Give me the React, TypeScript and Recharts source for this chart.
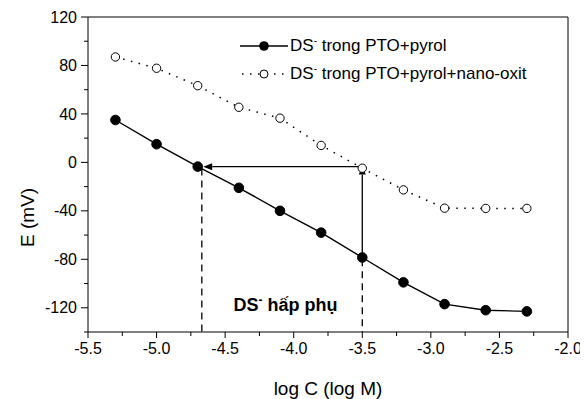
import React from 'react';
import { ComposedChart, Line, XAxis, YAxis, ReferenceLine, ReferenceDot } from 'recharts';

const logC = [-5.3, -5.0, -4.7, -4.4, -4.1, -3.8, -3.5, -3.2, -2.9, -2.6, -2.3];
const ePyrol = [35, 15, -3.5, -21, -40, -58, -78.5, -99, -117, -122, -123];
const eNano = [87, 77.7, 63.3, 45.5, 36.5, 14, -4.8, -22.7, -37.8, -38, -38];

const xTicks = [-5.5, -5.25, -5.0, -4.75, -4.5, -4.25, -4.0, -3.75, -3.5, -3.25, -3.0, -2.75, -2.5, -2.25, -2.0];
const xMajor = [-5.5, -5.0, -4.5, -4.0, -3.5, -3.0, -2.5, -2.0];
const yTicks = [-140, -120, -100, -80, -60, -40, -20, 0, 20, 40, 60, 80, 100, 120];
const yMajor = [-120, -80, -40, 0, 40, 80, 120];

const seriesNames = ['trong PTO+pyrol', 'trong PTO+pyrol+nano-oxit'];

const data = logC.map((x, i) => ({ x, a: ePyrol[i], b: eNano[i] }));

const FONT = '"Liberation Sans", Arial, sans-serif';

const XTick = (props: any) => {
  const { x, y, payload } = props;
  const major = xMajor.includes(payload.value);
  return (
    <g>
      <line x1={x} x2={x} y1={y} y2={y + (major ? 6 : 4)} stroke="#000" strokeWidth={1} />
      {major && (
        <text x={x} y={y + 22} textAnchor="middle" fontSize={16} fontFamily={FONT} fill="#000">
          {payload.value.toFixed(1)}
        </text>
      )}
    </g>
  );
};

const YTick = (props: any) => {
  const { x, y, payload } = props;
  const major = yMajor.includes(payload.value);
  return (
    <g>
      <line x1={x} x2={x - (major ? 7 : 4)} y1={y} y2={y} stroke="#000" strokeWidth={1} />
      {major && (
        <text x={x - 11} y={y} dy="0.35em" textAnchor="end" fontSize={16} fontFamily={FONT} fill="#000">
          {payload.value}
        </text>
      )}
    </g>
  );
};

const arrowShape = (p: any) => {
  const { x1, y1, x2, y2 } = p;
  const ang = Math.atan2(y2 - y1, x2 - x1);
  const L = 9;
  const W = 3.5;
  const bx = x2 - L * Math.cos(ang);
  const by = y2 - L * Math.sin(ang);
  const px = -Math.sin(ang) * W;
  const py = Math.cos(ang) * W;
  return (
    <g>
      <line x1={x1} y1={y1} x2={bx} y2={by} stroke="#000" strokeWidth={1.3} />
      <polygon points={`${x2},${y2} ${bx + px},${by + py} ${bx - px},${by - py}`} fill="#000" />
    </g>
  );
};

const solidDot = (p: any) => (
  <circle key={`s${p.index}`} cx={p.cx} cy={p.cy} r={4.8} fill="#000" stroke="#000" />
);
const openDot = (p: any) => (
  <circle key={`o${p.index}`} cx={p.cx} cy={p.cy} r={4.2} fill="#fff" stroke="#000" strokeWidth={1} />
);

const YLabel = (props: any) => {
  const vb = props.viewBox || { x: 0, y: 9, width: 80, height: 315 };
  const cx = vb.x + 19;
  const cy = vb.y + vb.height / 2 + 43;
  return (
    <text x={cx} y={cy} transform={`rotate(-90, ${cx}, ${cy})`} textAnchor="middle" dy="0.35em" fontSize={19} fontFamily={FONT} fill="#000">
      E (mV)
    </text>
  );
};

const annotation = (p: any) => (
  <text x={p.cx} y={p.cy} dy="0.35em" textAnchor="middle" fontSize={18} fontWeight="bold" fontFamily={FONT} fill="#000">
    <tspan>DS</tspan>
    <tspan dy={-7} fontSize={12}>-</tspan>
    <tspan dy={7}> hấp phụ</tspan>
  </text>
);

const LegendRow = ({ open, name }: { open: boolean; name: string }) => (
  <div style={{ display: 'flex', alignItems: 'center', height: 28 }}>
    <svg width={48} height={14} style={{ marginRight: 2 }}>
      {open ? (
        <>
          <line x1={2} x2={46} y1={7} y2={7} stroke="#000" strokeWidth={1.5} strokeDasharray="1.5 6.5" />
          <circle cx={24} cy={7} r={4} fill="#fff" stroke="#000" />
        </>
      ) : (
        <>
          <line x1={0} x2={48} y1={7} y2={7} stroke="#000" strokeWidth={1.4} />
          <circle cx={24} cy={7} r={4.8} fill="#000" />
        </>
      )}
    </svg>
    <span style={{ fontFamily: FONT, fontSize: 17, color: '#000', whiteSpace: 'nowrap' }}>
      DS<sup style={{ fontSize: 10, verticalAlign: 'super', lineHeight: 0 }}>-</sup> {name}
    </span>
  </div>
);

export default function App() {
  return (
    <div style={{ position: 'relative', width: 580, height: 391 }}>
      <ComposedChart width={580} height={391} data={data} margin={{ top: 9, right: 20, bottom: 0, left: 0 }}>
        <XAxis
          dataKey="x"
          type="number"
          domain={[-5.5, -2.0]}
          ticks={xTicks}
          interval={0}
          tickSize={0}
          tickMargin={0}
          tickLine={false}
          tick={<XTick />}
          height={67}
          axisLine={{ stroke: '#000', strokeWidth: 1 }}
          label={{ value: 'log C (log M)', position: 'insideBottom', offset: 4, fontSize: 19, fill: '#000', fontFamily: FONT }}
        />
        <YAxis
          type="number"
          domain={[-140, 120]}
          ticks={yTicks}
          interval={0}
          tickSize={0}
          tickMargin={0}
          tickLine={false}
          tick={<YTick />}
          width={80}
          axisLine={{ stroke: '#000', strokeWidth: 1 }}
          label={<YLabel />}
        />
        <ReferenceLine y={120} stroke="#000" strokeWidth={1} />
        <ReferenceLine x={-2.0} stroke="#000" strokeWidth={1} />
        <ReferenceLine segment={[{ x: -4.67, y: -5 }, { x: -4.67, y: -140 }]} stroke="#000" strokeWidth={1.3} strokeDasharray="7 5" />
        <ReferenceLine segment={[{ x: -3.5, y: -80 }, { x: -3.5, y: -140 }]} stroke="#000" strokeWidth={1.3} strokeDasharray="7 5" />
        <ReferenceLine segment={[{ x: -3.5, y: -3.5 }, { x: -4.66, y: -3.5 }]} shape={arrowShape} />
        <ReferenceLine segment={[{ x: -3.5, y: -78.5 }, { x: -3.5, y: -2.5 }]} shape={arrowShape} />
        <Line dataKey="b" stroke="#000" strokeWidth={1.5} strokeDasharray="1.5 6.5" dot={openDot} isAnimationActive={false} />
        <Line dataKey="a" stroke="#000" strokeWidth={1.4} dot={solidDot} isAnimationActive={false} />
        <ReferenceDot x={-4.06} y={-117.5} r={0} shape={annotation} />
      </ComposedChart>
      <div style={{ position: 'absolute', left: 232, top: 24 }}>
        <LegendRow open={false} name={seriesNames[0]} />
        <LegendRow open={true} name={seriesNames[1]} />
      </div>
    </div>
  );
}
